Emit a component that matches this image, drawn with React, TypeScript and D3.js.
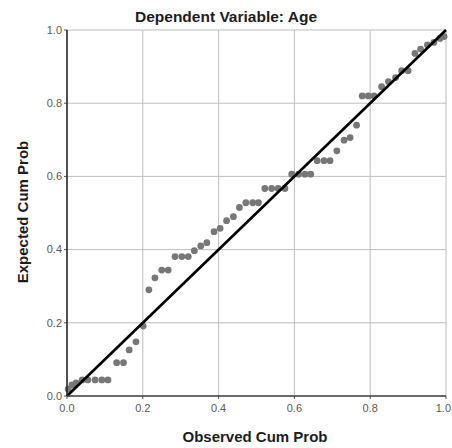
import { scaleLinear } from "d3";

const width = 452;
const height = 448;

const margin = { top: 30, right: 6, bottom: 52, left: 67 };
const innerW = width - margin.left - margin.right;
const innerH = height - margin.top - margin.bottom;

const title = "Dependent Variable: Age";
const xLabel = "Observed Cum Prob";
const yLabel = "Expected Cum Prob";
const ticks = [0, 0.2, 0.4, 0.6, 0.8, 1.0];

// observed cumulative probabilities
const observed = [
  0.003, 0.013, 0.024, 0.04, 0.055, 0.074, 0.092, 0.108,
  0.131, 0.149, 0.164, 0.182, 0.201,
  0.216, 0.232, 0.25, 0.267, 0.285, 0.303, 0.32, 0.336, 0.353, 0.369,
  0.388, 0.404, 0.421, 0.439, 0.455, 0.472, 0.49, 0.505,
  0.522, 0.54, 0.557, 0.575, 0.593, 0.611, 0.628, 0.643,
  0.66, 0.678, 0.694, 0.712, 0.731, 0.747, 0.764,
  0.779, 0.795, 0.81, 0.83, 0.848, 0.867, 0.883, 0.9,
  0.918, 0.933, 0.951, 0.968, 0.984, 0.995,
];

// expected cumulative probabilities
const expected = [
  0.019, 0.03, 0.036, 0.044, 0.044, 0.044, 0.044, 0.044,
  0.091, 0.091, 0.126, 0.148, 0.191,
  0.29, 0.323, 0.344, 0.344, 0.381, 0.381, 0.381, 0.397, 0.41, 0.419,
  0.449, 0.458, 0.479, 0.49, 0.515, 0.528, 0.528, 0.528,
  0.567, 0.567, 0.567, 0.567, 0.606, 0.606, 0.606, 0.606,
  0.643, 0.643, 0.643, 0.67, 0.699, 0.706, 0.74,
  0.82, 0.82, 0.82, 0.845, 0.859, 0.87, 0.889, 0.889,
  0.936, 0.948, 0.959, 0.966, 0.977, 0.982,
];

const x = scaleLinear().domain([0, 1]).range([0, innerW]);
const y = scaleLinear().domain([0, 1]).range([innerH, 0]);

const font = "'Liberation Sans', Arial, sans-serif";

export default function App() {
  return (
    <svg
      width={width}
      height={height}
      style={{ position: "absolute", left: 0, top: 0, background: "#fff" }}
      fontFamily={font}
    >
      <text
        x={226}
        y={22}
        textAnchor="middle"
        fontSize={15.5}
        fontWeight="bold"
        fill="#1c1c24"
      >
        {title}
      </text>
      <g transform={`translate(${margin.left},${margin.top})`}>
        {/* grid */}
        {ticks.map((t) => (
          <g key={"g" + t}>
            <line x1={x(t)} x2={x(t)} y1={0} y2={innerH} stroke="#bdbdbd" strokeWidth={1} />
            <line x1={0} x2={innerW} y1={y(t)} y2={y(t)} stroke="#bdbdbd" strokeWidth={1} />
          </g>
        ))}
        {/* y ticks */}
        {ticks.map((t) => (
          <g key={"y" + t}>
            <line x1={-3} x2={0} y1={y(t)} y2={y(t)} stroke="#555" />
            <text
              x={-5}
              y={y(t)}
              dy="0.35em"
              textAnchor="end"
              fontSize={11}
              fill="#5e5a55"
            >
              {t.toFixed(1)}
            </text>
          </g>
        ))}
        {/* x ticks */}
        {ticks.map((t, i) => {
          const last = i === ticks.length - 1;
          return (
            <g key={"x" + t}>
              <line x1={x(t)} x2={x(t)} y1={innerH} y2={innerH + 3} stroke="#555" />
              <text
                x={last ? x(t) + margin.right - 1 : x(t)}
                y={innerH + 16}
                textAnchor={last ? "end" : "middle"}
                fontSize={11}
                fill="#5e5a55"
              >
                {t.toFixed(1)}
              </text>
            </g>
          );
        })}
        {/* points */}
        {observed.map((o, i) => (
          <circle key={i} cx={x(o)} cy={y(expected[i])} r={3.4} fill="#777" />
        ))}
        {/* reference line */}
        <line x1={x(0)} y1={y(0)} x2={x(1)} y2={y(1)} stroke="#000" strokeWidth={2.6} />
        {/* axes */}
        <line x1={0} x2={0} y1={0} y2={innerH} stroke="#222" strokeWidth={1.5} />
        <line x1={0} x2={innerW} y1={innerH} y2={innerH} stroke="#444" strokeWidth={1.5} />
      </g>
      <text
        x={255}
        y={442}
        textAnchor="middle"
        fontSize={15}
        fontWeight="bold"
        fill="#1c1c24"
      >
        {xLabel}
      </text>
      <text
        transform={`translate(28,212) rotate(-90)`}
        textAnchor="middle"
        fontSize={15}
        fontWeight="bold"
        fill="#1c1c24"
      >
        {yLabel}
      </text>
    </svg>
  );
}
